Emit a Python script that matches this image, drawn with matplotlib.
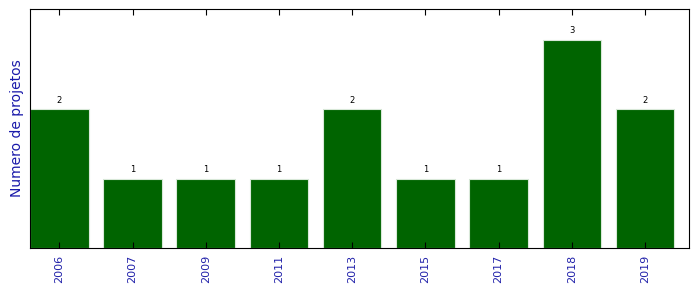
import matplotlib
matplotlib.use("Agg")
import matplotlib.pyplot as plt

anos = ['2006', '2007', '2009', '2011', '2013', '2015', '2017', '2018', '2019']
projetos = [2, 1, 1, 1, 2, 1, 1, 3, 2]

fig = plt.figure(figsize=(6.99, 2.92), dpi=100)
ax = fig.add_axes([30/699, 1 - 248/292, 659/699, 239/292])

x = range(len(anos))
bars = ax.bar(x, projetos, width=0.8, color='#006400', edgecolor='#d8e8d8', linewidth=0.8)

# numero acima de cada barra
for xi, v in zip(x, projetos):
    ax.text(xi, v + 0.06, str(v), ha='center', va='bottom', fontsize=6)

ax.set_xlim(-0.4, 8.6)
ax.set_ylim(0, 3.44)
ax.set_yticks([])
ax.set_xticks(list(x))
ax.set_xticklabels(anos, rotation=90, fontsize=8, color='#2222aa')
ax.tick_params(axis='x', direction='in', top=True, length=4, pad=5)
ax.set_ylabel('Numero de projetos', fontsize=10, color='#1a1aaa')

fig.savefig('out.png', dpi=100)
